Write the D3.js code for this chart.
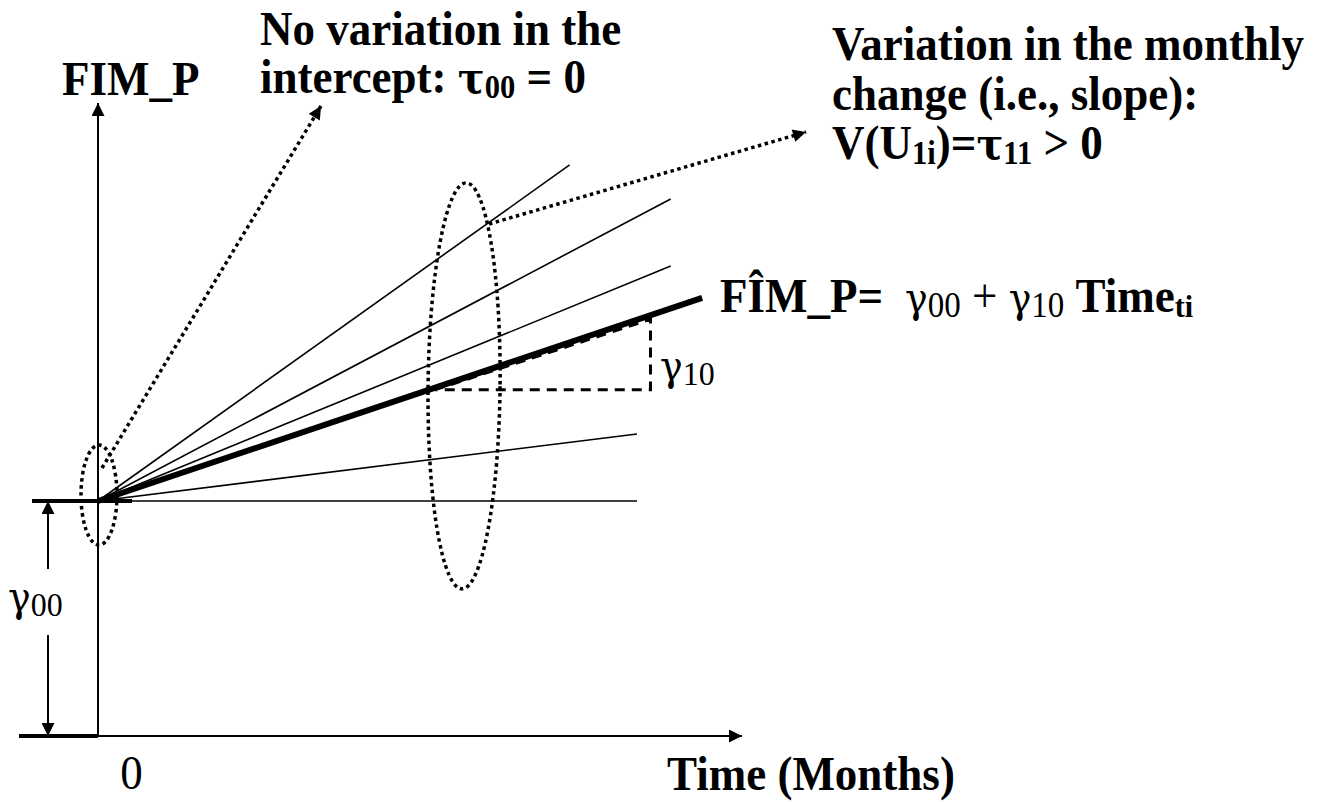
<!DOCTYPE html>
<html>
<head>
<meta charset="utf-8">
<script src="https://cdn.jsdelivr.net/npm/d3@7"></script>
<style>
  html, body { margin: 0; padding: 0; background: #fff; }
  svg { display: block; font-family: "Liberation Serif", "Times New Roman", serif; }
</style>
</head>
<body>
<svg id="chart" width="1335" height="802"></svg>
<script>
// time in months, outcome FIM_P in arbitrary units
const timeDomain = [0, 12];
const fimDomain = [0, 100];
const gamma00 = 100;
// individual trajectories (all start at gamma00 at time 0)
const indivEndTime = [10.5, 12.75, 12.75, 12, 12];
const indivEndValue = [243, 228.5, 200, 128.5, 100];
// average trajectory
const meanEndTime = 13.45;
const meanEndValue = 186.4;
// slope triangle on the average line
const slopeFrom = 7.5;
const slopeTo = 12.3;
const xTickLabels = ["0"];

const svg = d3.select('#chart');

const x = d3.scaleLinear().domain(timeDomain).range([98, 637]);
const y = d3.scaleLinear().domain(fimDomain).range([736, 501]);

// marqueurs de flèche
const defs = svg.append('defs');
defs.append('marker')
    .attr('id', 'head')
    .attr('viewBox', '0 0 10 10')
    .attr('refX', 10).attr('refY', 5)
    .attr('markerUnits', 'userSpaceOnUse')
    .attr('markerWidth', 16).attr('markerHeight', 13)
    .attr('orient', 'auto-start-reverse')
    .append('path')
    .attr('d', 'M0,0 L10,5 L0,10 Z')
    .attr('fill', '#000');

const g = svg.append('g');

// axes
g.append('line')
    .attr('x1', x(0)).attr('y1', y(0))
    .attr('x2', x(0)).attr('y2', 103)
    .attr('stroke', '#000').attr('stroke-width', 2)
    .attr('marker-end', 'url(#head)');

g.append('line')
    .attr('x1', x(0)).attr('y1', y(0))
    .attr('x2', 742).attr('y2', y(0))
    .attr('stroke', '#000').attr('stroke-width', 2)
    .attr('marker-end', 'url(#head)');

g.append('line')
    .attr('x1', 19).attr('y1', y(0))
    .attr('x2', x(0)).attr('y2', y(0))
    .attr('stroke', '#000').attr('stroke-width', 4);

const xAxis = d3.axisBottom(x)
    .tickValues([0])
    .tickFormat((d, i) => xTickLabels[i])
    .tickSize(0);

g.append('g')
    .attr('transform', `translate(0,${y(0)})`)
    .call(xAxis)
    .call(a => a.select('.domain').remove())
    .selectAll('text')
    .attr('dx', 33)
    .attr('dy', 45)
    .attr('font-size', 45)
    .attr('font-family', '"Liberation Serif", serif')
    .attr('transform', 'scale(1,1.1)')
    .attr('fill', '#000');

// intercept thick marker
g.append('line')
    .attr('x1', 32).attr('y1', y(gamma00))
    .attr('x2', 132).attr('y2', y(gamma00))
    .attr('stroke', '#000').attr('stroke-width', 4);

// gamma00 double arrow
g.append('line')
    .attr('x1', 48).attr('y1', y(gamma00) + 68)
    .attr('x2', 48).attr('y2', y(gamma00))
    .attr('stroke', '#000').attr('stroke-width', 2)
    .attr('marker-end', 'url(#head)');
g.append('line')
    .attr('x1', 48).attr('y1', y(gamma00) + 134)
    .attr('x2', 48).attr('y2', y(0))
    .attr('stroke', '#000').attr('stroke-width', 2)
    .attr('marker-end', 'url(#head)');

// individual trajectories
const indiv = indivEndTime.map((t, i) => [[0, gamma00], [t, indivEndValue[i]]]);
const line = d3.line().x(d => x(d[0])).y(d => y(d[1]));

g.selectAll('.indiv')
    .data(indiv)
    .enter()
    .append('path')
    .attr('class', 'indiv')
    .attr('d', line)
    .attr('fill', 'none')
    .attr('stroke', '#000')
    .attr('stroke-width', 1.6);

// slope triangle
const meanAt = t => gamma00 + (meanEndValue - gamma00) * t / meanEndTime;
g.append('path')
    .attr('d', `M${x(slopeFrom)},${y(meanAt(slopeFrom)) + 2}
                L${x(slopeTo)},${y(meanAt(slopeTo)) + 4}
                L${x(slopeTo)},${y(meanAt(slopeFrom)) + 2}
                Z`)
    .attr('fill', 'none')
    .attr('stroke', '#000')
    .attr('stroke-width', 3)
    .attr('stroke-dasharray', '10 7');

// average trajectory
g.append('path')
    .datum([[0, gamma00], [meanEndTime, meanEndValue]])
    .attr('d', line)
    .attr('fill', 'none')
    .attr('stroke', '#000')
    .attr('stroke-width', 6);

// dotted ellipses
const dotted = sel => sel
    .attr('fill', 'none')
    .attr('stroke', '#000')
    .attr('stroke-width', 3.5)
    .attr('stroke-dasharray', '3.5 3.5');

g.append('ellipse')
    .attr('cx', x(0) + 1).attr('cy', y(gamma00) - 6)
    .attr('rx', 18).attr('ry', 50)
    .call(dotted);

g.append('ellipse')
    .attr('cx', 0).attr('cy', 0)
    .attr('rx', 36).attr('ry', 203)
    .attr('transform', `translate(${x(8.15)},${y(149)}) rotate(0.6)`)
    .call(dotted);

// dotted callout arrows
g.append('line')
    .attr('x1', 102).attr('y1', 468)
    .attr('x2', 321).attr('y2', 106)
    .call(dotted)
    .attr('marker-end', 'url(#head)');

g.append('line')
    .attr('x1', 489).attr('y1', 224)
    .attr('x2', 806).attr('y2', 132)
    .call(dotted)
    .attr('marker-end', 'url(#head)');

// textes : parts = {t, sub, w, fs, dx, greek}
function rich(parts, px, py, size) {
    const t = svg.append('text')
        .attr('transform', `translate(${px},${py}) scale(1,1.08)`)
        .attr('font-size', size)
        .attr('font-weight', 'bold')
        .attr('fill', '#000');
    let shifted = false;
    parts.forEach(p => {
        const s = t.append('tspan').text(p.t);
        if (p.sub) {
            s.attr('font-size', p.fs || size * 0.68);
            if (!shifted) { s.attr('dy', 5); shifted = true; }
        } else {
            if (shifted) { s.attr('dy', -5); shifted = false; }
            if (p.fs) s.attr('font-size', p.fs);
        }
        if (p.w) s.attr('font-weight', p.w);
        if (p.dx) s.attr('dx', p.dx);
        if (p.greek) s.attr('font-family', '"DejaVu Serif", serif');
    });
    return t;
}

rich([{t: 'FIM_P'}], 62, 95, 45);
rich([{t: 'No variation in the'}], 260, 45, 45);
rich([{t: 'intercept: '}, {t: 'τ', greek: true, fs: 40}, {t: '00', sub: true}, {t: ' = 0'}], 260, 93, 45);
rich([{t: 'Variation in the monthly'}], 832, 60, 45);
rich([{t: 'change (i.e., slope):'}], 832, 110, 45);
rich([{t: 'V(U'}, {t: '1i', sub: true}, {t: ')='}, {t: 'τ', greek: true, fs: 40}, {t: '11', sub: true}, {t: ' > 0'}], 832, 159, 45);
rich([
    {t: 'FÎM_P='},
    {t: 'γ', w: 'normal', dx: 22, greek: true, fs: 38},
    {t: '00', sub: true, w: 'normal', fs: 33},
    {t: ' + ', w: 'normal'},
    {t: 'γ', w: 'normal', greek: true, fs: 38},
    {t: '10', sub: true, w: 'normal', fs: 33},
    {t: ' Time'},
    {t: 'ti', sub: true, fs: 30}
], 720, 312, 45);
rich([{t: 'γ', w: 'normal', greek: true, fs: 38}, {t: '10', sub: true, w: 'normal', fs: 32}], 660, 380, 44);
rich([{t: 'γ', w: 'normal', greek: true, fs: 38}, {t: '00', sub: true, w: 'normal', fs: 32}], 8, 611, 44);
rich([{t: 'Time (Months)'}], 667, 790, 45);
</script>
</body>
</html>
